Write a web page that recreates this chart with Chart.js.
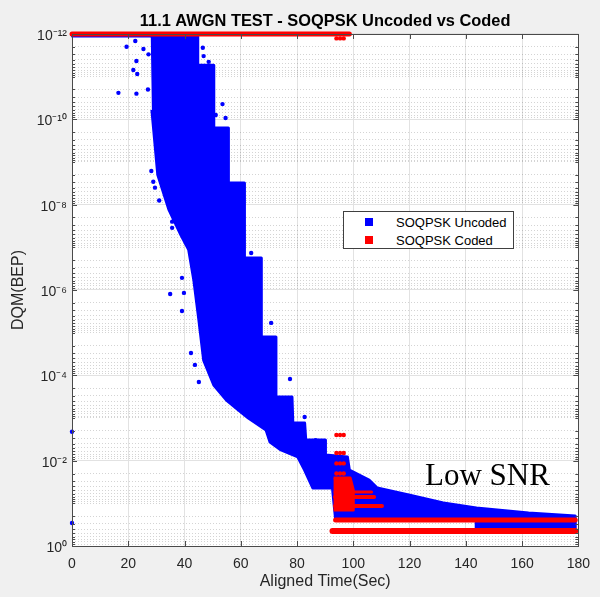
<!DOCTYPE html>
<html>
<head>
<meta charset="utf-8">
<script src="https://cdn.jsdelivr.net/npm/chart.js@4.4.1/dist/chart.umd.min.js"></script>
<style>
html,body{margin:0;padding:0;background:#f0f0f0;}
#wrap{position:relative;width:600px;height:597px;overflow:hidden;}
canvas{display:block;}
#legend{position:absolute;left:343px;top:211px;width:169px;height:36px;background:#fff;border:1px solid #404040;font:13px "Liberation Sans",Arial,sans-serif;color:#000;}
#legend .sw{position:absolute;left:21px;width:8px;height:8px;}
#legend .tx{position:absolute;left:52px;line-height:16px;white-space:nowrap;}
#note{position:absolute;left:425px;top:459px;font:31px "Liberation Serif","Times New Roman",serif;line-height:31px;color:#000;white-space:nowrap;}
</style>
</head>
<body>
<div id="wrap">
<canvas id="c" width="600" height="597"></canvas>
<div id="legend">
  <span class="sw" style="top:6px;background:#0000ff"></span><span class="tx" style="top:3px">SOQPSK Uncoded</span>
  <span class="sw" style="top:24px;background:#ff0000"></span><span class="tx" style="top:21px">SOQPSK Coded</span>
</div>
<div id="note">Low SNR</div>
</div>
<script>
// ---------- axis ticks ----------
const xTickValues = [0, 20, 40, 60, 80, 100, 120, 140, 160, 180];
const yTickValues = [1e-12, 1e-10, 1e-8, 1e-6, 1e-4, 1e-2, 1];
const yTickLabels = ['10⁻¹²', '10⁻¹⁰', '10⁻⁸', '10⁻⁶', '10⁻⁴', '10⁻²', '10⁰'];
const yMinorMantissas = [1, 2, 3, 4, 5, 6, 7, 8, 9];

// ---------- SOQPSK Uncoded (blue) ----------
// outline of the dense point cloud (time in s, BEP)
const uncodedCloudTime = [28.0, 44.7, 44.7, 50.4, 50.4, 55.6, 55.6, 61.3, 61.3, 67.3, 67.3, 72.2, 72.5, 78.2, 78.5, 82.7, 83.1, 90.1, 90.1, 97.9, 98.6, 105.6, 108.5, 119.7, 132.0, 143.7, 162.3, 178.9,
  178.9, 143.7, 143.7, 93.7, 92.6, 85.6, 82.7, 80.3, 74.3, 70.4, 69.0, 62.7, 59.2, 54.9, 50.4, 46.8, 45.1, 43.3, 41.5, 38.7, 34.5, 30.5, 28.4];
const uncodedCloudBEP = [1.11e-12, 1.11e-12, 5.4e-12, 5.4e-12, 1.6e-10, 1.6e-10, 3.1e-9, 3.1e-9, 1.78e-7, 1.78e-7, 1.26e-5, 1.26e-5, 3.22e-4, 3.22e-4, 1.31e-3, 1.31e-3, 3.28e-3, 3.28e-3, 7.36e-3, 8.2e-3, 1.66e-2, 2.84e-2, 4.37e-2, 6.38e-2, 9.8e-2, 0.129, 0.169, 0.198,
  0.379, 0.379, 0.233, 0.233, 4.37e-2, 4.37e-2, 1.66e-2, 8.2e-3, 5.6e-3, 3.65e-3, 1.91e-3, 1e-3, 6.5e-4, 3.8e-4, 1.69e-4, 4.4e-5, 5.0e-6, 5.8e-7, 1.15e-7, 5.1e-8, 1.33e-8, 2.0e-9, 6.0e-11];
// points pinned at the top of the axis
const uncodedFloorTime = [0, 44.7];
const uncodedFloorBEP = [1.15e-12, 1.15e-12];
// scattered individual points
const uncodedPointTime = [0, 0, 16.5, 19.4, 21.8, 22.5, 22.9, 22.9, 23.2, 25.4, 46.5, 46.8, 48.6, 49.3, 51.1, 53.5, 54.6, 28.2, 28.9, 58.1, 63.7, 34.9, 35.6, 35.6, 39.8, 39.1, 39.1, 42.3, 43.7, 45.1, 70.8, 77.5, 82.7, 86.6, 91.5, 119.0, 143.7, 27.2, 27.0, 29.5, 31.0];
const uncodedPointBEP = [2.1e-3, 0.29, 2.4e-11, 2.0e-12, 7.0e-12, 1.46e-12, 4.3e-12, 2.5e-11, 8.7e-12, 2.25e-12, 2.1e-12, 3.3e-12, 4.5e-12, 7.0e-12, 7.9e-11, 4.4e-11, 9.3e-11, 1.63e-9, 2.9e-9, 3.65e-9, 1.36e-7, 1.24e-6, 3.5e-8, 2.5e-8, 1.17e-6, 5.2e-7, 3.1e-6, 3.0e-5, 5.7e-5, 1.43e-4, 5.9e-6, 1.22e-4, 9.5e-4, 3.3e-3, 4.1e-2, 8.4e-2, 0.136, 3.0e-12, 2.0e-11, 4.0e-9, 8.0e-9];

// ---------- SOQPSK Coded (red) ----------
const codedTopTime = [0, 98.6];
const codedTopBEP = [1e-12, 1e-12];
const codedCloudTime = [93.0, 98.9, 100.0, 100.0, 93.0];
const codedCloudBEP = [2.55e-2, 2.55e-2, 4.9e-2, 0.143, 0.143];
const codedStreakATime = [93.5, 106.5];
const codedStreakABEP = [5.4e-2, 5.4e-2];
const codedStreakBTime = [93.5, 107.4];
const codedStreakBBEP = [7.1e-2, 7.1e-2];
const codedStreakCTime = [93.5, 110.2];
const codedStreakCBEP = [0.1155, 0.1155];
const codedLevel1Time = [93.7, 178.9];
const codedLevel1BEP = [0.246, 0.246];
const codedLevel2Time = [92.6, 178.9];
const codedLevel2BEP = [0.445, 0.445];
const codedPointTime = [94.0, 95.3, 96.6, 94.0, 95.3, 96.6, 94.0, 95.3, 96.6, 94.0, 95.3, 96.6, 94.0, 95.3, 96.6];
const codedPointBEP = [1.27e-12, 1.27e-12, 1.27e-12, 2.5e-3, 2.5e-3, 2.5e-3, 6.6e-3, 6.6e-3, 6.6e-3, 1.16e-2, 1.16e-2, 1.16e-2, 2.0e-2, 2.0e-2, 2.0e-2];

const BLUE = '#0000ff';
const RED = '#ff0000';
const pts = (ts, vs) => ts.map((t, i) => ({ x: t, y: vs[i] }));

const minorVals = [];
for (let k = -12; k < 0; k++) {
  for (const m of yMinorMantissas) {
    if (m === 1 && k % 2 === 0) continue;
    minorVals.push(m * Math.pow(10, k));
  }
}

function area(label, ts, vs, color, order) {
  return { label, data: pts(ts, vs), showLine: true, fill: 'shape', backgroundColor: color, borderColor: color,
    borderWidth: 3, borderJoinStyle: 'round', pointRadius: 0, pointHoverRadius: 0, tension: 0, order };
}
function level(label, ts, vs, color, width, order) {
  return { label, data: pts(ts, vs), showLine: true, fill: false, borderColor: color, backgroundColor: color,
    borderWidth: width, borderCapStyle: 'round', pointRadius: 0, pointHoverRadius: 0, order, clip: 5 };
}
function dots(label, ts, vs, color, order) {
  return { label, data: pts(ts, vs), showLine: false, backgroundColor: color, borderColor: color,
    borderWidth: 0, pointRadius: 2.2, pointHoverRadius: 2.2, order, clip: 4 };
}

const datasets = [
  dots('SOQPSK Uncoded', uncodedPointTime, uncodedPointBEP, BLUE, 2),
  area('', uncodedCloudTime, uncodedCloudBEP, BLUE, 2),
  level('', uncodedFloorTime, uncodedFloorBEP, BLUE, 2, 2),
  dots('SOQPSK Coded', codedPointTime, codedPointBEP, RED, 1),
  area('', codedCloudTime, codedCloudBEP, RED, 1),
  level('', codedStreakATime, codedStreakABEP, RED, 3, 1),
  level('', codedStreakBTime, codedStreakBBEP, RED, 4, 1),
  level('', codedStreakCTime, codedStreakCBEP, RED, 4, 1),
  level('', codedLevel1Time, codedLevel1BEP, RED, 5, 1),
  level('', codedLevel2Time, codedLevel2BEP, RED, 6, 1),
  level('', codedTopTime, codedTopBEP, RED, 5, 1)
];

const frame = {
  id: 'frame',
  beforeDraw(chart) {
    const { ctx, chartArea: a } = chart;
    ctx.save();
    ctx.fillStyle = '#f0f0f0';
    ctx.fillRect(0, 0, chart.width, chart.height);
    ctx.fillStyle = '#ffffff';
    ctx.fillRect(a.left, a.top, a.right - a.left, a.bottom - a.top);
    ctx.restore();
  },
  afterDraw(chart) {
    const { ctx, chartArea: a, scales } = chart;
    ctx.save();
    ctx.strokeStyle = '#4a4a4a';
    ctx.lineWidth = 1;
    ctx.beginPath();
    for (const v of xTickValues) {
      const px = Math.round(scales.x.getPixelForValue(v)) + 0.5;
      ctx.moveTo(px, a.bottom); ctx.lineTo(px, a.bottom - 5);
      ctx.moveTo(px, a.top); ctx.lineTo(px, a.top + 5);
    }
    for (const v of yTickValues) {
      const py = Math.round(scales.y.getPixelForValue(v)) + 0.5;
      ctx.moveTo(a.left, py); ctx.lineTo(a.left + 5, py);
      ctx.moveTo(a.right, py); ctx.lineTo(a.right - 5, py);
    }
    for (const v of minorVals) {
      const py = Math.round(scales.y.getPixelForValue(v)) + 0.5;
      ctx.moveTo(a.left, py); ctx.lineTo(a.left + 3, py);
      ctx.moveTo(a.right, py); ctx.lineTo(a.right - 3, py);
    }
    ctx.stroke();
    ctx.strokeRect(Math.round(a.left) + 0.5, Math.round(a.top) + 0.5, Math.round(a.right - a.left), Math.round(a.bottom - a.top));
    ctx.restore();
  }
};

Chart.defaults.font.family = '"Liberation Sans", Arial, Helvetica, sans-serif';
Chart.defaults.color = '#262626';

new Chart(document.getElementById('c'), {
  type: 'scatter',
  data: { datasets },
  options: {
    responsive: false,
    animation: false,
    devicePixelRatio: 1,
    layout: { padding: { left: 0, right: 16, top: 0, bottom: 0 } },
    plugins: {
      legend: { display: false },
      tooltip: { enabled: false },
      title: {
        display: true,
        fullSize: false,
        text: '11.1 AWGN TEST - SOQPSK Uncoded vs Coded',
        color: '#000',
        font: { size: 16.4, weight: 'bold' },
        padding: { top: 11.5, bottom: 2.8 }
      }
    },
    scales: {
      x: {
        type: 'linear', min: 0, max: 180,
        afterBuildTicks: s => { s.ticks = xTickValues.map(v => ({ value: v })); },
        afterFit: s => { s.height = 51; },
        ticks: { font: { size: 14 }, color: '#262626', padding: 10, autoSkip: false, maxRotation: 0 },
        grid: { color: '#e2e2e2', drawTicks: false, lineWidth: 1 },
        border: { display: false },
        title: { display: true, text: 'Aligned Time(Sec)', font: { size: 16 }, color: '#262626', padding: { top: 0, bottom: 6 } }
      },
      y: {
        type: 'logarithmic', min: 1e-12, max: 1, reverse: true, position: 'left',
        afterBuildTicks: s => { s.ticks = yTickValues.map(v => ({ value: v })); },
        afterFit: s => { s.width = 72; },
        ticks: {
          font: { size: 14 }, color: '#262626', padding: 5, autoSkip: false, labelOffset: 2,
          callback: v => { const i = yTickValues.findIndex(t => Math.abs(Math.log10(t) - Math.log10(v)) < 1e-6); return i >= 0 ? yTickLabels[i] : ''; }
        },
        grid: { color: '#e2e2e2', drawTicks: false, lineWidth: 1 },
        border: { display: false },
        title: { display: true, text: 'DQM(BEP)', font: { size: 16 }, color: '#262626', padding: { top: 9, bottom: 0 } }
      },
      yMinor: {
        type: 'logarithmic', min: 1e-12, max: 1, reverse: true, position: 'left',
        afterBuildTicks: s => { s.ticks = minorVals.map(v => ({ value: v })); },
        afterFit: s => { s.width = 0; },
        ticks: { display: false, autoSkip: false },
        grid: { color: 'rgba(0,0,0,0.17)', drawTicks: false, lineWidth: 1 },
        border: { display: false, dash: [1, 2] }
      }
    }
  },
  plugins: [frame]
});
</script>
</body>
</html>
